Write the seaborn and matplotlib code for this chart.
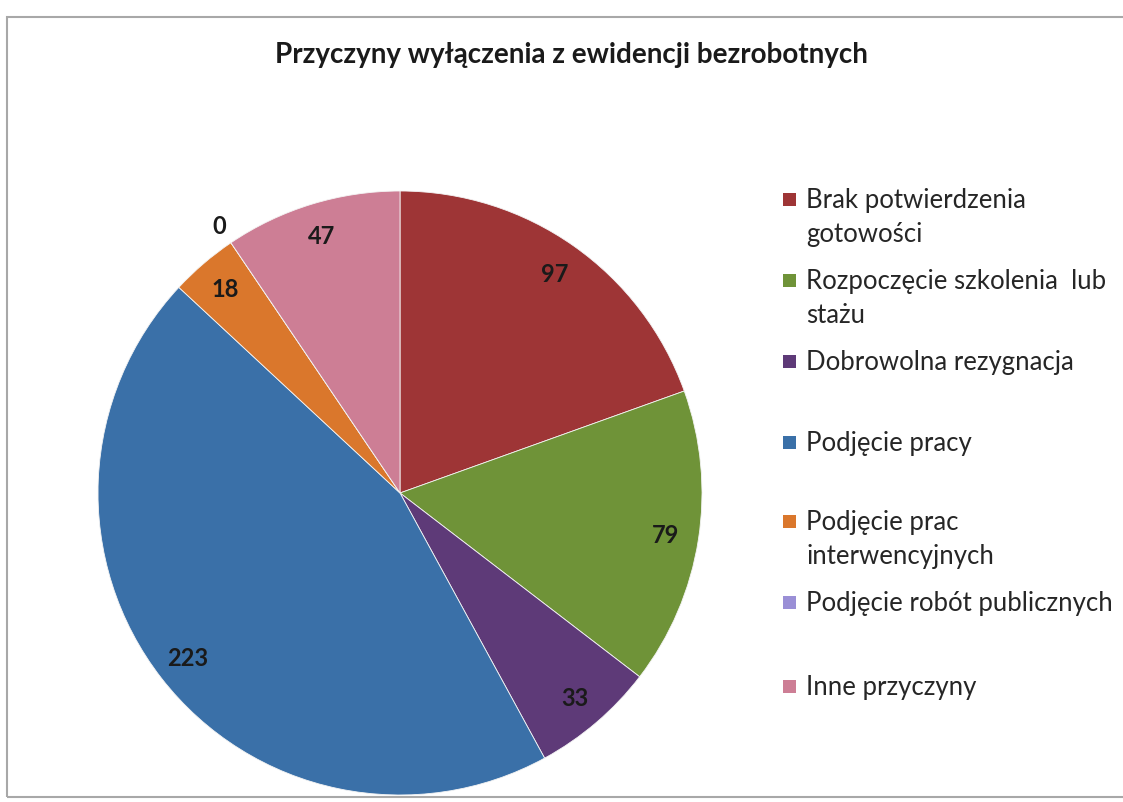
import matplotlib
matplotlib.use("Agg")
import matplotlib.pyplot as plt
import seaborn as sns
import numpy as np
from matplotlib.patches import Rectangle

# data
categories = ["Brak potwierdzenia\ngotowości",
              "Rozpoczęcie szkolenia  lub\nstażu",
              "Dobrowolna rezygnacja",
              "Podjęcie pracy",
              "Podjęcie prac\ninterwencyjnych",
              "Podjęcie robót publicznych",
              "Inne przyczyny"]
values = [97, 79, 33, 223, 18, 0, 47]
colors = ["#9E3536", "#6F9338", "#5E3A78", "#3A70A8", "#DA772C", "#9A8FD6", "#CD7E95"]
title = "Przyczyny wyłączenia z ewidencji bezrobotnych"

sns.set_theme(style="white")
plt.rcParams['font.family'] = ['Lato', 'DejaVu Sans']

W, H = 1123, 803
fig = plt.figure(figsize=(W / 100, H / 100), dpi=100)

# chart frame
fig.patches.append(Rectangle((7 / W, 5 / H), 1.2, (798 - 18) / H, transform=fig.transFigure,
                             fill=False, edgecolor="#A8A8A8", linewidth=1.5))

fig.text(571 / W, 1 - 55 / H, title, ha="center", va="center",
         fontsize=20, fontweight="bold", color="#1a1a1a")

# pie axes: center (400, 494) px, radius 302 px
cx, cy, r = 400, 494, 302
ax = fig.add_axes([(cx - r) / W, (H - cy - r) / H, 2 * r / W, 2 * r / H])
wedges, _ = ax.pie(values, colors=colors, startangle=90, counterclock=False,
                   radius=1, wedgeprops=dict(linewidth=0.6, edgecolor="#f4f4f4"))
ax.set_xlim(-1, 1)
ax.set_ylim(-1, 1)
ax.set_aspect("equal")
ax.axis("off")

# data labels near the outer edge
for w, v in zip(wedges, values):
    ang = np.deg2rad((w.theta1 + w.theta2) / 2)
    d = 0.89 if v > 0 else 1.07
    ax.text(d * np.cos(ang), d * np.sin(ang), str(v), ha="center", va="center",
            fontsize=17, fontweight="bold", color="#1a1a1a")

# legend (Excel-style, first line aligned with square)
legend_y = [200, 281, 362, 443, 522, 603, 687]
for lab, col, y in zip(categories, colors, legend_y):
    fig.patches.append(Rectangle((783 / W, 1 - (y + 7) / H), 13 / W, 13 / H,
                                 transform=fig.transFigure, facecolor=col, edgecolor="none"))
    fig.text(806 / W, 1 - (y - 12) / H, lab, ha="left", va="top",
             fontsize=18.5, color="#262626", linespacing=1.45)

fig.savefig("out.png", dpi=100)
